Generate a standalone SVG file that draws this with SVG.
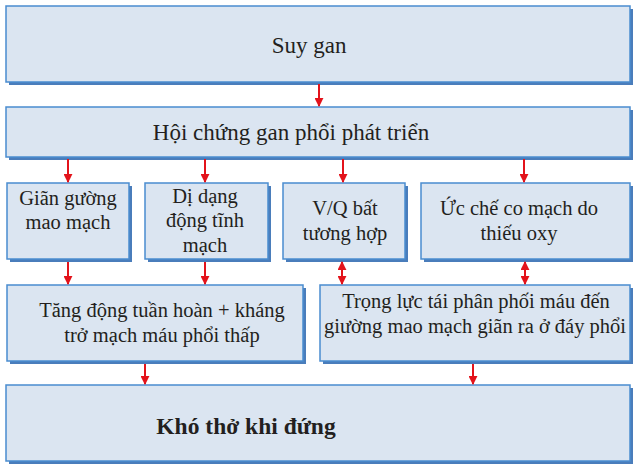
<svg xmlns="http://www.w3.org/2000/svg" width="637" height="470" viewBox="0 0 637 470">
<style>
.sh{fill:#4a7dbb}
.bx{fill:#dbe5f1;stroke:#4a8ccf;stroke-width:1.5}
.t{font-family:"Liberation Serif","Times New Roman",serif;fill:#231f20;text-anchor:middle}
.big{font-size:23px}
.sm{font-size:20.5px}
.bold{font-size:23.5px;font-weight:bold}
.c{stroke:#e3131b;stroke-width:2;fill:none}
</style>
<defs>
<marker id="ah" viewBox="0 0 10 10" refX="9" refY="5" markerWidth="4.5" markerHeight="4.5" orient="auto-start-reverse">
<path d="M0,0 L10,5 L0,10 Z" fill="#e3131b"/>
</marker>
</defs>
<rect width="637" height="470" fill="#ffffff"/>
<g id="n1"><rect class="sh" x="9" y="9" width="624" height="76"/><rect class="bx" x="6" y="6" width="624" height="76"/><text class="t big" x="309" y="53">Suy gan</text></g>
<g id="n2"><rect class="sh" x="9" y="110" width="624" height="50"/><rect class="bx" x="6" y="107" width="624" height="50"/><text class="t big" x="291" y="140">Hội chứng gan phổi phát triển</text></g>
<g id="n3"><rect class="sh" x="10" y="186" width="122" height="76"/><rect class="bx" x="7" y="183" width="122" height="76"/><text class="t sm" x="68" y="205">Giãn gường</text><text class="t sm" x="68" y="229">mao mạch</text></g>
<g id="n4"><rect class="sh" x="148" y="186" width="123" height="76"/><rect class="bx" x="145" y="183" width="123" height="76"/><text class="t sm" x="205" y="203">Dị dạng</text><text class="t sm" x="205" y="227">động tĩnh</text><text class="t sm" x="205" y="252">mạch</text></g>
<g id="n5"><rect class="sh" x="286" y="186" width="122" height="76"/><rect class="bx" x="283" y="183" width="122" height="76"/><text class="t sm" x="345" y="215">V/Q bất</text><text class="t sm" x="345" y="240">tương hợp</text></g>
<g id="n6"><rect class="sh" x="424" y="186" width="209" height="76"/><rect class="bx" x="421" y="183" width="209" height="76"/><text class="t sm" x="519" y="215">Ức chế co mạch do</text><text class="t sm" x="519" y="240">thiếu oxy</text></g>
<g id="n7"><rect class="sh" x="10" y="288" width="296" height="76"/><rect class="bx" x="7" y="285" width="296" height="76"/><text class="t sm" x="162" y="317">Tăng động tuần hoàn + kháng</text><text class="t sm" x="162" y="342">trở mạch máu phổi thấp</text></g>
<g id="n8"><rect class="sh" x="323" y="288" width="310" height="76"/><rect class="bx" x="320" y="285" width="310" height="76"/><text class="t sm" x="476" y="308">Trọng lực tái phân phối máu đến</text><text class="t sm" x="475" y="333">giường mao mạch giãn ra ở đáy phổi</text></g>
<g id="n9"><rect class="sh" x="9" y="388" width="624" height="76"/><rect class="bx" x="6" y="385" width="624" height="76"/><text class="t bold" x="246" y="434">Khó thở khi đứng</text></g>
<g id="connectors">
<line class="c" x1="319" y1="84" x2="319" y2="106" marker-end="url(#ah)"/>
<line class="c" x1="68" y1="159" x2="68" y2="182" marker-end="url(#ah)"/>
<line class="c" x1="205" y1="159" x2="205" y2="182" marker-end="url(#ah)"/>
<line class="c" x1="343" y1="159" x2="343" y2="182" marker-end="url(#ah)"/>
<line class="c" x1="524" y1="159" x2="524" y2="182" marker-end="url(#ah)"/>
<line class="c" x1="68" y1="262" x2="68" y2="284" marker-end="url(#ah)"/>
<line class="c" x1="205" y1="262" x2="205" y2="284" marker-end="url(#ah)"/>
<line class="c" x1="342" y1="262" x2="342" y2="284" marker-start="url(#ah)" marker-end="url(#ah)"/>
<line class="c" x1="525" y1="262" x2="525" y2="284" marker-start="url(#ah)" marker-end="url(#ah)"/>
<line class="c" x1="145" y1="364" x2="145" y2="384" marker-end="url(#ah)"/>
<line class="c" x1="473" y1="364" x2="473" y2="384" marker-end="url(#ah)"/>
</g>
</svg>
